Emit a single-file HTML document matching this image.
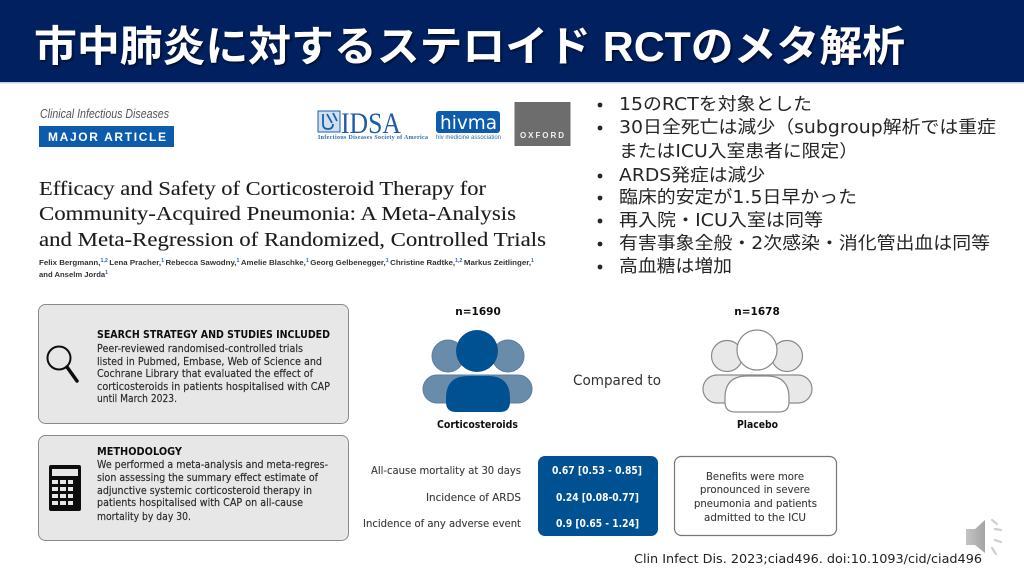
<!DOCTYPE html>
<html lang="ja">
<head>
<meta charset="utf-8">
<title>市中肺炎に対するステロイド RCTのメタ解析</title>
<style>
html,body{margin:0;padding:0;background:#fff;width:1024px;height:576px;overflow:hidden}
svg{display:block}
text{white-space:pre}
.jp{font-family:"Liberation Sans","Noto Sans CJK JP",sans-serif}
.b{font-family:"DejaVu Sans","Noto Sans CJK JP",sans-serif;font-size:17.5px;fill:#262626}
.s{font-family:"Liberation Serif",serif;font-size:20.5px;fill:#1e1e1e;stroke:#1e1e1e;stroke-width:.12}
.a{font-family:"Liberation Sans",sans-serif;font-size:7.5px;font-weight:700;fill:#333}
.a tspan{font-size:5px;fill:#2a5fc0}
.t{font-family:"DejaVu Sans",sans-serif;font-size:10.5px;fill:#2a2a2a;stroke:#2a2a2a;stroke-width:.15}
.h{font-family:"DejaVu Sans",sans-serif;font-size:10.5px;font-weight:700;fill:#111}
.l{font-family:"DejaVu Sans",sans-serif;font-size:10.5px;fill:#3a3a3a;stroke:#3a3a3a;stroke-width:.12}
.v{font-family:"DejaVu Sans",sans-serif;font-size:10.5px;font-weight:700;fill:#fff}
</style>
</head>
<body>
<svg width="1024" height="576" viewBox="0 0 1024 576" xmlns="http://www.w3.org/2000/svg">
<defs>
<filter id="soft" x="-2%" y="-2%" width="104%" height="104%"><feGaussianBlur stdDeviation="0.35"/></filter>
<filter id="shadow" x="-2%" y="-20%" width="104%" height="140%"><feDropShadow dx="1.5" dy="1.5" stdDeviation="1" flood-color="#000" flood-opacity="0.6"/></filter>
<linearGradient id="spk" x1="0" x2="1" y1="0" y2="0"><stop offset="0" stop-color="#c4c4c4"/><stop offset="1" stop-color="#a4a4a4"/></linearGradient>
</defs>
<rect x="0" y="0" width="1024" height="82" fill="#002060"/>
<rect x="0" y="82" width="1024" height="1.5" fill="#c5d0e2"/>
<text class="jp" x="34" y="61" font-size="42px" font-weight="700" fill="#fff" filter="url(#shadow)" textLength="871" lengthAdjust="spacingAndGlyphs">市中肺炎に対するステロイド RCTのメタ解析</text>

<g filter="url(#soft)">
<text x="40" y="118" font-family="Liberation Sans,sans-serif" font-style="italic" font-size="12.5px" fill="#555" textLength="129" lengthAdjust="spacingAndGlyphs">Clinical Infectious Diseases</text>
<rect x="39" y="126" width="135" height="21" fill="#0b5cab"/>
<text x="48" y="141" font-family="Liberation Sans,sans-serif" font-weight="700" font-size="12px" fill="#fff" textLength="118" lengthAdjust="spacing">MAJOR ARTICLE</text>

<rect x="318" y="111" width="22" height="21" fill="#cfe0f0" stroke="#1f5fa8" stroke-width="1"/>
<path d="M323 114v10q0 5 5 5t5-5M333 113l4 8M327 114l5 9" fill="none" stroke="#1f5fa8" stroke-width="1.8"/>
<text x="341" y="133" font-family="Liberation Serif,serif" font-size="30px" fill="#1b5ca8" textLength="60" lengthAdjust="spacingAndGlyphs">IDSA</text>
<text x="318" y="139" font-family="Liberation Serif,serif" font-weight="700" font-size="6px" fill="#2a6cb0" textLength="110" lengthAdjust="spacing">Infectious Diseases Society of America</text>
<rect x="436" y="111" width="64" height="22" rx="3" fill="#0f5cab"/>
<text x="440" y="129" font-family="DejaVu Sans,sans-serif" font-size="19px" fill="#fff" textLength="57" lengthAdjust="spacingAndGlyphs">hivma</text>
<text x="436" y="139" font-family="Liberation Sans,sans-serif" font-size="6px" fill="#2a6cb0" textLength="65" lengthAdjust="spacingAndGlyphs">hiv medicine association</text>
<rect x="514.5" y="102" width="56" height="44" fill="#6d6d6d"/>
<text x="520" y="138" font-family="Liberation Sans,sans-serif" font-weight="700" font-size="8px" fill="#f0f0f0" textLength="44" lengthAdjust="spacing">OXFORD</text>

<text class="s" x="39" y="195" textLength="447" lengthAdjust="spacingAndGlyphs">Efficacy and Safety of Corticosteroid Therapy for</text>
<text class="s" x="39" y="220" textLength="477" lengthAdjust="spacingAndGlyphs">Community-Acquired Pneumonia: A Meta-Analysis</text>
<text class="s" x="39" y="246" textLength="507" lengthAdjust="spacingAndGlyphs">and Meta-Regression of Randomized, Controlled Trials</text>
<text class="a" x="39" y="265" textLength="495" lengthAdjust="spacingAndGlyphs">Felix Bergmann,<tspan dy="-3">1,2</tspan><tspan dy="3" font-size="7.5px"> </tspan>Lena Pracher,<tspan dy="-3">1</tspan><tspan dy="3"> </tspan>Rebecca Sawodny,<tspan dy="-3">1</tspan><tspan dy="3"> </tspan>Amelie Blaschke,<tspan dy="-3">1</tspan><tspan dy="3"> </tspan>Georg Gelbenegger,<tspan dy="-3">1</tspan><tspan dy="3"> </tspan>Christine Radtke,<tspan dy="-3">1,2</tspan><tspan dy="3"> </tspan>Markus Zeitlinger,<tspan dy="-3">1</tspan></text>
<text class="a" x="39" y="277" textLength="69" lengthAdjust="spacingAndGlyphs">and Anselm Jorda<tspan dy="-3">1</tspan></text>

<rect x="38.5" y="304.5" width="310" height="119" rx="7" fill="#e7e7e7" stroke="#8a8a8a"/>
<rect x="38.5" y="435.5" width="310" height="105" rx="7" fill="#e7e7e7" stroke="#8a8a8a"/>
<circle cx="59" cy="358" r="11.5" fill="none" stroke="#111" stroke-width="2"/>
<path d="M67 367L77 381" stroke="#111" stroke-width="3.5" stroke-linecap="round"/>
<rect x="49" y="465" width="32" height="46" rx="2" fill="#111"/>
<rect x="52" y="469" width="26" height="7" fill="#e7e7e7"/>
<g fill="#e7e7e7">
<rect x="52" y="480" width="6" height="4"/><rect x="60" y="480" width="6" height="4"/><rect x="68" y="480" width="5" height="4"/>
<rect x="52" y="487" width="6" height="4"/><rect x="60" y="487" width="6" height="4"/><rect x="68" y="487" width="5" height="4"/>
<rect x="52" y="494" width="6" height="4"/><rect x="60" y="494" width="6" height="4"/><rect x="68" y="494" width="5" height="4"/>
<rect x="52" y="501" width="6" height="4"/><rect x="60" y="501" width="6" height="4"/><rect x="68" y="501" width="5" height="4"/>
</g>

<text class="h" x="97" y="338" textLength="233" lengthAdjust="spacingAndGlyphs">SEARCH STRATEGY AND STUDIES INCLUDED</text>
<text class="t" x="97" y="352" textLength="206" lengthAdjust="spacingAndGlyphs">Peer-reviewed randomised-controlled trials</text>
<text class="t" x="97" y="365" textLength="225" lengthAdjust="spacingAndGlyphs">listed in Pubmed, Embase, Web of Science and</text>
<text class="t" x="97" y="377" textLength="216" lengthAdjust="spacingAndGlyphs">Cochrane Library that evaluated the effect of</text>
<text class="t" x="97" y="390" textLength="233" lengthAdjust="spacingAndGlyphs">corticosteroids in patients hospitalised with CAP</text>
<text class="t" x="97" y="402" textLength="80" lengthAdjust="spacingAndGlyphs">until March 2023.</text>

<text class="h" x="97" y="455" textLength="85" lengthAdjust="spacingAndGlyphs">METHODOLOGY</text>
<text class="t" x="97" y="468" textLength="231" lengthAdjust="spacingAndGlyphs">We performed a meta-analysis and meta-regres-</text>
<text class="t" x="97" y="481" textLength="221" lengthAdjust="spacingAndGlyphs">sion assessing the summary effect estimate of</text>
<text class="t" x="97" y="494" textLength="215" lengthAdjust="spacingAndGlyphs">adjunctive systemic corticosteroid therapy in</text>
<text class="t" x="97" y="506" textLength="206" lengthAdjust="spacingAndGlyphs">patients hospitalised with CAP on all-cause</text>
<text class="t" x="97" y="520" textLength="94" lengthAdjust="spacingAndGlyphs">mortality by day 30.</text>

<text class="h" x="478" y="315" text-anchor="middle">n=1690</text>
<text class="h" x="757" y="315" text-anchor="middle">n=1678</text>

<circle cx="448" cy="356" r="16" fill="#6a8cab" stroke="#5c7f9f"/>
<circle cx="508" cy="356" r="16" fill="#6a8cab" stroke="#5c7f9f"/>
<rect x="423" y="375" width="109" height="28" rx="14" fill="#6a8cab" stroke="#5c7f9f"/>
<path d="M446 402V398Q446 376 468 376H488Q510 376 510 398V402Q510 412 500 412H456Q446 412 446 402Z" fill="#055192"/>
<circle cx="477" cy="351" r="21" fill="#055192"/>

<circle cx="727" cy="356" r="15.5" fill="#e8e8e8" stroke="#8a8a8a" stroke-width="1.2"/>
<circle cx="787" cy="356" r="15.5" fill="#e8e8e8" stroke="#8a8a8a" stroke-width="1.2"/>
<rect x="703" y="375" width="109" height="28" rx="14" fill="#e8e8e8" stroke="#8a8a8a" stroke-width="1.2"/>
<path d="M725 402V398Q725 376 747 376H767Q789 376 789 398V402Q789 412 779 412H735Q725 412 725 402Z" fill="#fff" stroke="#8a8a8a" stroke-width="1.2"/>
<circle cx="757" cy="350" r="20" fill="#fff" stroke="#8a8a8a" stroke-width="1.2"/>

<text x="573" y="385" font-family="DejaVu Sans,sans-serif" font-size="14px" fill="#333" textLength="88" lengthAdjust="spacingAndGlyphs">Compared to</text>
<text class="h" x="437" y="428" textLength="81" lengthAdjust="spacingAndGlyphs">Corticosteroids</text>
<text class="h" x="737" y="428" textLength="41" lengthAdjust="spacingAndGlyphs">Placebo</text>

<text class="l" x="371" y="474" textLength="150" lengthAdjust="spacingAndGlyphs">All-cause mortality at 30 days</text>
<text class="l" x="426" y="501" textLength="95" lengthAdjust="spacingAndGlyphs">Incidence of ARDS</text>
<text class="l" x="363" y="527" textLength="158" lengthAdjust="spacingAndGlyphs">Incidence of any adverse event</text>

<rect x="538" y="456" width="120" height="80" rx="7" fill="#055192"/>
<text class="v" x="552" y="474" textLength="90" lengthAdjust="spacingAndGlyphs">0.67 [0.53 - 0.85]</text>
<text class="v" x="556" y="501" textLength="83" lengthAdjust="spacingAndGlyphs">0.24 [0.08-0.77]</text>
<text class="v" x="556" y="527" textLength="83" lengthAdjust="spacingAndGlyphs">0.9 [0.65 - 1.24]</text>

<rect x="674.5" y="456.5" width="162" height="79" rx="7" fill="#fff" stroke="#777" stroke-width="1.2"/>
<text class="l" x="706" y="480" textLength="98" lengthAdjust="spacingAndGlyphs">Benefits were more</text>
<text class="l" x="700" y="493" textLength="110" lengthAdjust="spacingAndGlyphs">pronounced in severe</text>
<text class="l" x="694" y="507" textLength="123" lengthAdjust="spacingAndGlyphs">pneumonia and patients</text>
<text class="l" x="704" y="521" textLength="102" lengthAdjust="spacingAndGlyphs">admitted to the ICU</text>
</g>

<g fill="#262626">
<circle cx="600" cy="105" r="2.4"/><circle cx="600" cy="128" r="2.4"/><circle cx="600" cy="176" r="2.4"/><circle cx="600" cy="198" r="2.4"/><circle cx="600" cy="221" r="2.4"/><circle cx="600" cy="244" r="2.4"/><circle cx="600" cy="267" r="2.4"/>
</g>
<text class="b" x="619" y="110" textLength="193" lengthAdjust="spacingAndGlyphs">15のRCTを対象とした</text>
<text class="b" x="619" y="133" textLength="377" lengthAdjust="spacingAndGlyphs">30日全死亡は減少（subgroup解析では重症</text>
<text class="b" x="619" y="157" textLength="239" lengthAdjust="spacingAndGlyphs">またはICU入室患者に限定）</text>
<text class="b" x="619" y="181" textLength="146" lengthAdjust="spacingAndGlyphs">ARDS発症は減少</text>
<text class="b" x="619" y="203" textLength="238" lengthAdjust="spacingAndGlyphs">臨床的安定が1.5日早かった</text>
<text class="b" x="619" y="226" textLength="204" lengthAdjust="spacingAndGlyphs">再入院・ICU入室は同等</text>
<text class="b" x="619" y="249" textLength="371" lengthAdjust="spacingAndGlyphs">有害事象全般・2次感染・消化管出血は同等</text>
<text class="b" x="619" y="272" textLength="113" lengthAdjust="spacingAndGlyphs">高血糖は増加</text>

<text x="634" y="563" font-family="DejaVu Sans,sans-serif" font-size="12.5px" fill="#222" textLength="348" lengthAdjust="spacingAndGlyphs">Clin Infect Dis. 2023;ciad496. doi:10.1093/cid/ciad496</text>

<g>
<path d="M966 529H975L985 520V553L975 545H966Z" fill="url(#spk)"/>
<path d="M992 520l5 4M995 529l6 1M995 540l6 2M992 548l4 6" stroke="#cfcfcf" stroke-width="2.2" stroke-linecap="round" fill="none"/>
</g>
</svg>
</body>
</html>
